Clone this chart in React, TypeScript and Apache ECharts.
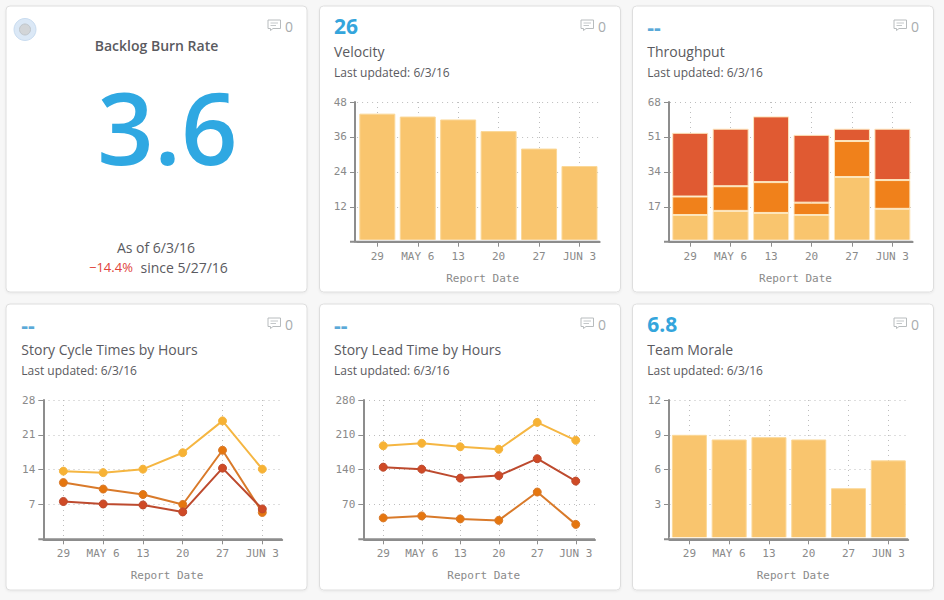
import React, { useEffect, useRef } from "react";
import * as echarts from "echarts";

const dates = ["29", "MAY 6", "13", "20", "27", "JUN 3"];

const velocity = [44, 43, 42, 38, 32, 26];
const throughputLow = [13, 15, 14, 13, 31.5, 16];
const throughputMid = [9, 12, 15, 6, 17.5, 14];
const throughputHigh = [31, 28, 32, 33, 6, 25];
const cycleYellow = [13.7, 13.4, 14.1, 17.4, 23.8, 14.1];
const cycleOrange = [11.4, 10.1, 9.0, 7.0, 17.9, 5.4];
const cycleRed = [7.6, 7.1, 6.9, 5.5, 14.3, 6.1];
const leadYellow = [188, 193, 186, 181, 235, 199];
const leadRed = [145, 141, 123, 128, 162, 117];
const leadOrange = [43, 47, 41, 38, 95, 30];
const morale = [9.0, 8.6, 8.8, 8.6, 4.4, 6.8];

const SANS = '"Open Sans", sans-serif';
const MONO = '"DejaVu Sans Mono", monospace';
const AXIS = "#8d8d8d";
const TEXT = "#5a5a60";
const BLUE = "#34a5dc";
const LIGHT = "#f9c56e";
const MID = "#f0811b";
const HIGH = "#e05a32";

const panels = [
  { left: 357.1, right: 599.7, top: 102, bottom: 241.7, axisX: 355, max: 48, step: 12, barWidth: 36 },
  { left: 670, right: 912.6, top: 102, bottom: 241.7, axisX: 669, max: 68, step: 17, barWidth: 36 },
  { left: 43.5, right: 282.2, top: 400, bottom: 539.3, axisX: 43.3, max: 28, step: 7, barWidth: 0 },
  { left: 364, right: 595, top: 400, bottom: 539.3, axisX: 363.3, max: 280, step: 70, barWidth: 0 },
  { left: 669.5, right: 908.2, top: 400, bottom: 539.3, axisX: 669, max: 12, step: 3, barWidth: 35 },
];

function barSeries(idx: number, data: number[], color: string, width: number, stack?: string, border = "#fbd898") {
  return {
    type: "bar",
    xAxisIndex: idx,
    yAxisIndex: idx,
    data,
    stack,
    barWidth: width,
    itemStyle: { color, borderColor: border, borderWidth: 1 },
  };
}

function lineSeries(idx: number, data: number[], line: string, dot: string) {
  return {
    type: "line",
    xAxisIndex: idx,
    yAxisIndex: idx,
    data,
    symbol: "circle",
    symbolSize: 8,
    showSymbol: true,
    lineStyle: { color: line, width: 2 },
    itemStyle: { color: dot, borderColor: line, borderWidth: 1, opacity: 1 },
  };
}

function text(x: number, y: number, t: string, font: string, fill: string, align = "left") {
  return {
    type: "text",
    z: 10,
    style: { text: t, x, y, font, fill, textAlign: align, textVerticalAlign: "middle" },
  };
}

function comment(x: number, y: number) {
  return {
    type: "group",
    x,
    y,
    z: 10,
    children: [
      {
        type: "polygon",
        z: 10,
        shape: { points: [[0, 0], [12.5, 0], [12.5, 8.5], [5, 8.5], [2.5, 10.5], [2.5, 8.5], [0, 8.5]] },
        style: { fill: "#fff", stroke: "#b8bcbe", lineWidth: 1 },
      },
      { type: "line", z: 11, shape: { x1: 2.5, y1: 3, x2: 10, y2: 3 }, style: { stroke: "#c4c8ca", lineWidth: 1 } },
      { type: "line", z: 11, shape: { x1: 2.5, y1: 5.5, x2: 8, y2: 5.5 }, style: { stroke: "#c4c8ca", lineWidth: 1 } },
    ],
  };
}

function card(x: number, y: number) {
  return {
    type: "rect",
    z: -10,
    shape: { x: x + 0.5, y: y + 0.5, width: 301, height: 286, r: 4 },
    style: { fill: "#fff", stroke: "#dedede", lineWidth: 1, shadowColor: "rgba(0,0,0,0.06)", shadowBlur: 2, shadowOffsetY: 1 },
  };
}

function buildOption() {
  const graphics: any[] = [];
  const cards = [[5.5, 5.5], [319, 5.5], [632, 5.5], [5.5, 303.5], [319, 303.5], [632, 303.5]];
  cards.forEach(([x, y]) => graphics.push(card(x, y)));

  const commentAt = [[268, 20], [581, 20], [894, 20], [268, 318], [581, 318], [894, 318]];
  commentAt.forEach(([x, y]) => {
    graphics.push(comment(x, y));
    graphics.push(text(x + 17, y + 6.5, "0", `14px ${SANS}`, "#a8acae"));
  });

  // first card
  graphics.push({ type: "circle", z: 10, shape: { cx: 25, cy: 29.5, r: 11 }, style: { fill: "#dbe8f6", stroke: "#c9dcf0", lineWidth: 1 } });
  graphics.push({ type: "circle", z: 11, shape: { cx: 25, cy: 29.5, r: 5.5 }, style: { fill: "#d2d5d8", stroke: "#c0c6cb", lineWidth: 1 } });
  graphics.push(text(156.5, 45.5, "Backlog Burn Rate", `600 14px ${SANS}`, TEXT, "center"));
  graphics.push(text(167.5, 126.5, "3.6", `600 99px ${SANS}`, "#2fa8e2", "center"));
  graphics.push(text(156, 247, "As of 6/3/16", `14px ${SANS}`, TEXT, "center"));
  graphics.push(text(89, 267, "−14.4%", `13px ${SANS}`, "#e0433a"));
  graphics.push(text(140.5, 267, "since 5/27/16", `14px ${SANS}`, TEXT));

  // headers
  const headers = [
    [334, 25.5, "26", "Velocity"],
    [647.3, 25.5, "--", "Throughput"],
    [21.3, 323.5, "--", "Story Cycle Times by Hours"],
    [334, 323.5, "--", "Story Lead Time by Hours"],
    [647.3, 323.5, "6.8", "Team Morale"],
  ] as [number, number, string, string][];
  headers.forEach(([x, y, v, title]) => {
    const isDash = v === "--";
    graphics.push(text(x, y + (isDash ? 1 : 0), v, `700 21px ${SANS}`, isDash ? "#5aa9d8" : BLUE));
    graphics.push(text(x, y + 25.8, title, `14px ${SANS}`, TEXT));
    graphics.push(text(x, y + 47.2, "Last updated: 6/3/16", `12px ${SANS}`, TEXT));
  });

  panels.forEach((p) => {
    // the small clear strip under the bars, then the baseline with its left stub
    if (p.barWidth) {
      graphics.push({
        type: "rect",
        z: 4,
        shape: { x: p.left, y: p.bottom - 2, width: p.right - p.left, height: 1.2 },
        style: { fill: "#fff" },
      });
    }
    graphics.push({
      type: "rect",
      z: 6,
      shape: { x: p.axisX - 5, y: p.bottom - 1, width: p.right - p.axisX + 5, height: 2 },
      style: { fill: AXIS },
    });
  });

  const grid = panels.map((p) => ({
    left: p.left,
    width: p.right - p.left,
    top: p.top,
    height: p.bottom - p.top,
    containLabel: false,
  }));

  const xAxis = panels.map((_, i) => ({
    type: "category",
    gridIndex: i,
    data: dates,
    name: "Report Date",
    nameLocation: "middle",
    nameGap: 31,
    nameTextStyle: { fontFamily: MONO, fontSize: 11, color: "#8a8a8a", padding: [0, 0, 0, 8.4] },
    axisLine: { show: true, lineStyle: { color: AXIS, width: 2 } },
    axisTick: { show: true, alignWithLabel: true, length: 5, lineStyle: { color: AXIS, width: 1 } },
    axisLabel: { interval: 0, margin: 9, fontFamily: MONO, fontSize: 11, color: "#8a8a8a", hideOverlap: false },
    splitLine: {
      show: true,
      alignWithLabel: true,
      interval: 0,
      lineStyle: { color: "#bdbdbd", type: [1, 4], width: 1 },
    },
  }));

  const yAxis = panels.map((p, i) => ({
    type: "value",
    gridIndex: i,
    min: 0,
    max: p.max,
    interval: p.step,
    offset: p.left - p.axisX,
    axisLine: { show: true, lineStyle: { color: AXIS, width: 2 } },
    axisTick: { show: true, length: 5, lineStyle: { color: AXIS, width: 1 } },
    axisLabel: { margin: 8, showMinLabel: false, fontFamily: MONO, fontSize: 11, color: "#8a8a8a" },
    splitLine: { show: true, lineStyle: { color: "#bdbdbd", type: [1, 4], width: 1 } },
  }));

  const series = [
    barSeries(0, velocity, LIGHT, 36),
    barSeries(1, throughputLow, LIGHT, 36, "t", "#fde6bd"),
    barSeries(1, throughputMid, MID, 36, "t", "#fde6bd"),
    barSeries(1, throughputHigh, HIGH, 36, "t", "#fde6bd"),
    lineSeries(2, cycleYellow, "#f5b642", "#f7b234"),
    lineSeries(2, cycleOrange, "#d97a2a", "#e5760f"),
    lineSeries(2, cycleRed, "#bd4a2e", "#cf4a26"),
    lineSeries(3, leadYellow, "#f5b642", "#f7b234"),
    lineSeries(3, leadRed, "#bd4a2e", "#cf4a26"),
    lineSeries(3, leadOrange, "#d97a2a", "#e5760f"),
    barSeries(4, morale, LIGHT, 35),
  ];

  return {
    animation: false,
    backgroundColor: "#f7f7f7",
    grid,
    xAxis,
    yAxis,
    series,
    graphic: { elements: graphics },
  };
}

export default function App() {
  const ref = useRef<HTMLDivElement>(null);
  useEffect(() => {
    const chart = echarts.init(ref.current!, undefined, { renderer: "svg" });
    chart.setOption(buildOption() as any);
    return () => chart.dispose();
  }, []);
  return <div ref={ref} style={{ position: "absolute", left: 0, top: 0, width: 944, height: 600 }} />;
}
